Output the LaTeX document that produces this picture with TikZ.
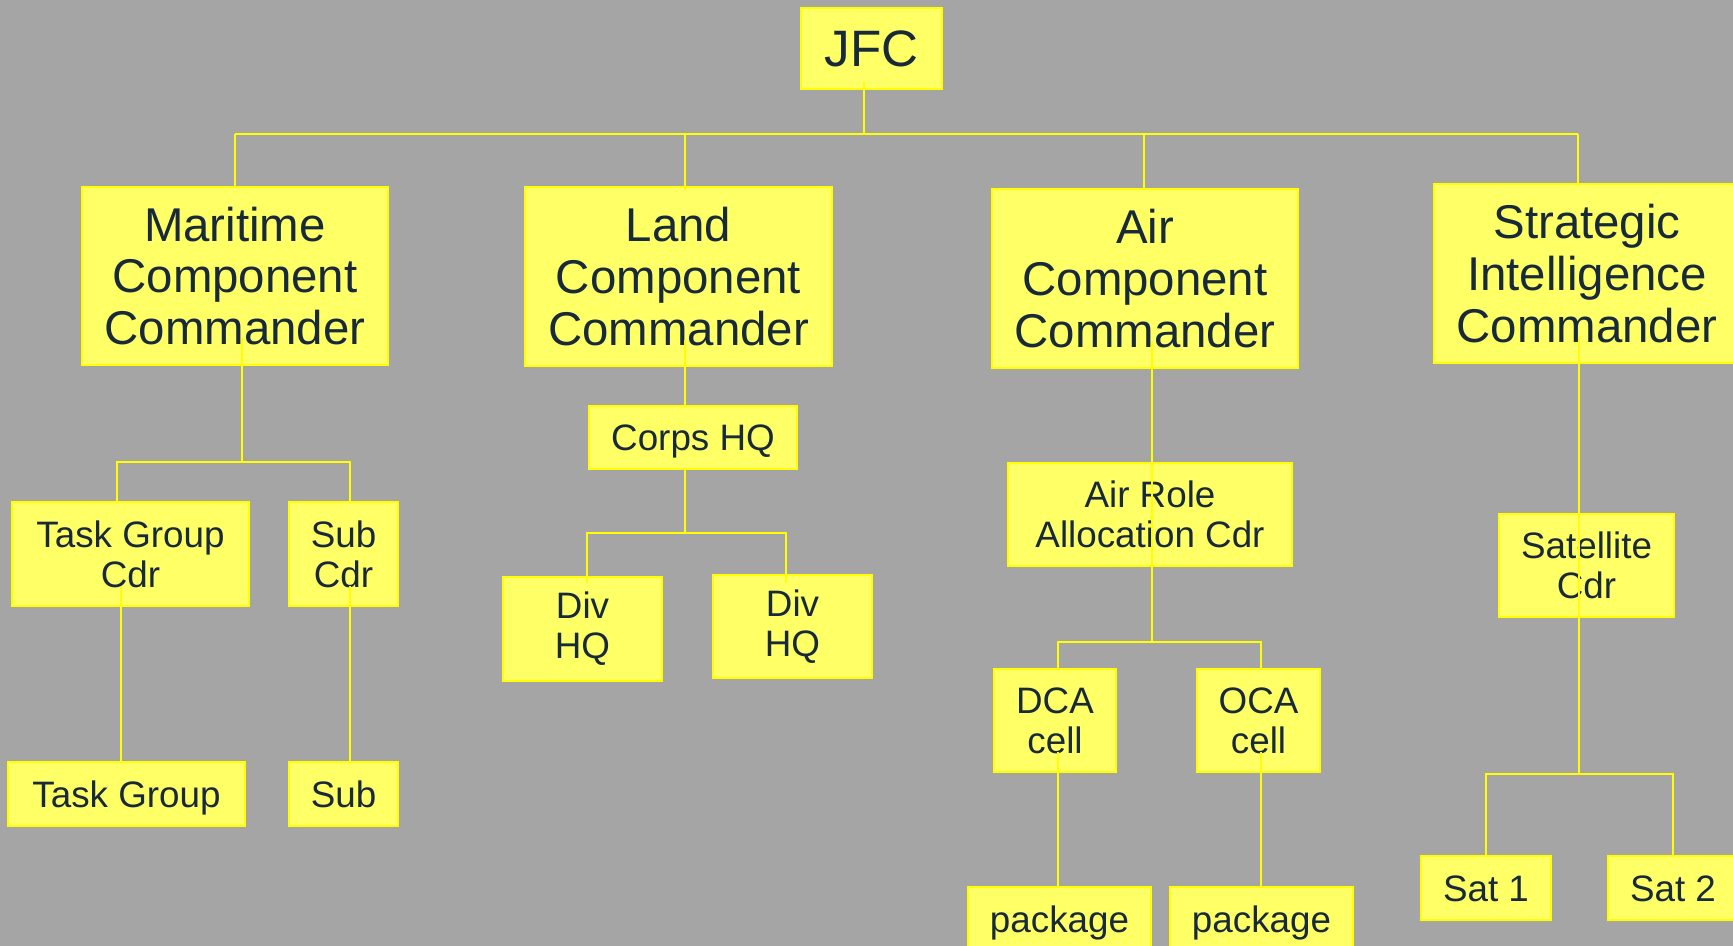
\documentclass[tikz,border=0pt]{standalone}
\usepackage{fontspec}
\setmainfont{Liberation Sans}
\usetikzlibrary{calc}
\definecolor{bg}{RGB}{165,165,165}
\definecolor{boxfill}{RGB}{255,255,102}
\definecolor{boxline}{RGB}{255,255,0}
\definecolor{ink}{RGB}{24,42,58}
\tikzset{
  box/.style={draw=boxline, fill=boxfill, line width=1.2pt, inner sep=0pt, outer sep=0pt, align=center, text=ink},
  jfctxt/.style={font=\fontsize{25.6}{28}\selectfont, text height=18.3pt, text depth=0pt},
  bigtxt/.style={font=\fontsize{23.7}{25.8}\selectfont},
  midtxt/.style={font=\fontsize{18.4}{20}\selectfont},
  oneline/.style={midtxt, text height=13.2pt, text depth=0pt},
  conn/.style={draw=boxline, line width=1pt}
}
\newcommand\orgbox[7]{%
  \node[box,#6,minimum width={(#4-#2)*0.5pt},minimum height={(#5-#3)*0.5pt}] (#1) at ({(#2+#4)/2},{(#3+#5)/2}) {#7};}
\begin{document}
\begin{tikzpicture}[x=0.5pt,y=-0.5pt]
\fill[bg] (0,0) rectangle (1733,946);
\useasboundingbox (0,0) rectangle (1733,946);
\clip (0,0) rectangle (1733,946);
% top level
\orgbox{jfc}{801}{8}{942}{89}{jfctxt}{JFC}
\orgbox{mcc}{82}{187}{388}{365}{bigtxt}{Maritime\\Component\\Commander}
\orgbox{lcc}{525}{187}{832}{366}{bigtxt}{Land\\Component\\Commander}
\orgbox{acc}{992}{189}{1298}{368}{bigtxt}{Air\\Component\\Commander}
\orgbox{sic}{1434}{184}{1740}{363}{bigtxt}{Strategic\\Intelligence\\Commander}
% maritime
\orgbox{tgc}{12}{502}{249}{606}{midtxt}{Task Group\\Cdr}
\orgbox{subc}{289}{502}{398}{606}{midtxt}{Sub\\Cdr}
\orgbox{tg}{8}{762}{245}{826}{oneline}{Task Group}
\orgbox{sub}{289}{762}{398}{826}{oneline}{Sub}
% land
\orgbox{corps}{589}{406}{797}{469}{oneline}{Corps HQ}
\orgbox{div1}{503}{577}{662}{681}{midtxt}{Div\\HQ}
\orgbox{div2}{713}{575}{872}{678}{midtxt}{Div\\HQ}
% air
\orgbox{arc}{1008}{463}{1292}{566}{midtxt}{Air Role\\Allocation Cdr}
\orgbox{dca}{994}{669}{1116}{772}{midtxt}{DCA\\cell}
\orgbox{oca}{1197}{669}{1320}{772}{midtxt}{OCA\\cell}
\orgbox{pkg1}{968}{887}{1151}{951}{oneline}{package}
\orgbox{pkg2}{1170}{887}{1353}{951}{oneline}{package}
% strategic
\orgbox{satc}{1499}{514}{1674}{617}{midtxt}{Satellite\\Cdr}
\orgbox{sat1}{1421}{856}{1551}{920}{oneline}{Sat 1}
\orgbox{sat2}{1608}{856}{1738}{920}{oneline}{Sat 2}
% junction coordinates
\coordinate (jd) at (864,134);
\coordinate (bL) at (235,134);
\coordinate (bLand) at (685,134);
\coordinate (bAir) at (1144,134);
\coordinate (bR) at (1578,134);
\coordinate (mj) at (242,462);
\coordinate (mL) at (117,462);
\coordinate (mR) at (350,462);
\coordinate (tgx) at (121,0);
\coordinate (lj) at (685,533);
\coordinate (lL) at (587,533);
\coordinate (lR) at (786,533);
\coordinate (aj) at (1152,642);
\coordinate (aL) at (1058,642);
\coordinate (aR) at (1261,642);
\coordinate (sj) at (1579,774);
\coordinate (sL) at (1486,774);
\coordinate (sR) at (1673,774);
% top bus
\draw[conn] ($(jd |- jfc.south)+(0,-7)$) -- (jd);
\draw[conn] (bL) -- (bR);
\draw[conn] (bL) -- (bL |- mcc.north);
\draw[conn] (bLand) -- ($(bLand |- lcc.north)+(0,3)$);
\draw[conn] (bAir) -- (bAir |- acc.north);
\draw[conn] (bR) -- (bR |- sic.north);
% maritime
\draw[conn] ($(mj |- mcc.south)+(0,-27)$) -- (mj);
\draw[conn] (mL |- tgc.north) -- (mL) -- (mR) -- (mR |- subc.north);
\draw[conn] ($(tgx |- tgc.south)+(0,-19)$) -- (tgx |- tg.north);
\draw[conn] ($(mR |- subc.south)+(0,-20)$) -- (mR |- sub.north);
% land
\draw[conn] ($(lj |- lcc.south)+(0,-26)$) -- (lj |- corps.north);
\draw[conn] (lj |- corps.south) -- (lj);
\draw[conn] ($(lL |- div1.north)+(0,6)$) -- (lL) -- (lR) -- ($(lR |- div2.north)+(0,8)$);
% air
\draw[conn] ($(aj |- acc.south)+(0,-26)$) -- (aj |- arc.north);
\draw[conn] (aj |- arc.north) -- (aj);
\draw[conn] (aL |- dca.north) -- (aL) -- (aR) -- (aR |- oca.north);
\draw[conn] ($(aL |- dca.south)+(0,-20)$) -- (aL |- pkg1.north);
\draw[conn] ($(aR |- oca.south)+(0,-20)$) -- (aR |- pkg2.north);
% strategic
\draw[conn] ($(sj |- sic.south)+(0,-26)$) -- (sj |- satc.north);
\draw[conn] (sj |- satc.north) -- (sj);
\draw[conn] (sL |- sat1.north) -- (sL) -- (sR) -- (sR |- sat2.north);
\end{tikzpicture}
\end{document}
